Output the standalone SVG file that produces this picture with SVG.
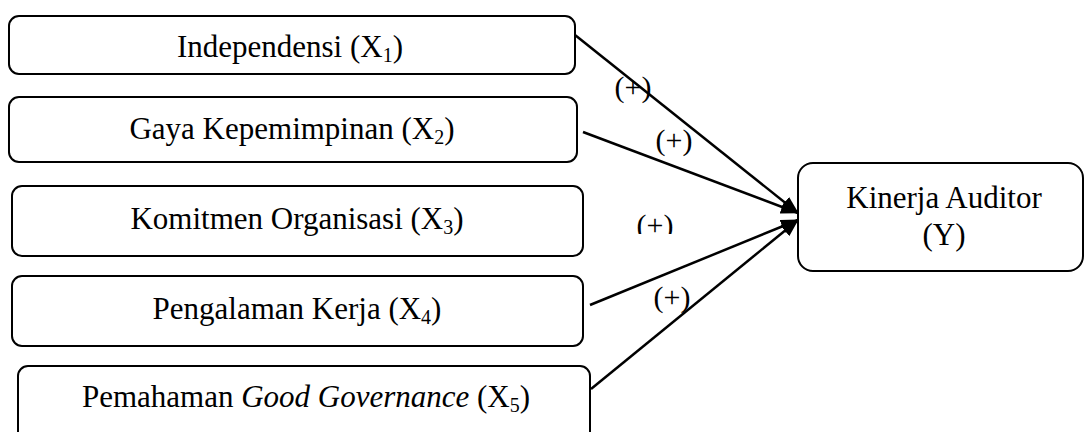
<svg xmlns="http://www.w3.org/2000/svg" width="1086" height="432" viewBox="0 0 1086 432">
<style>
.box{fill:#fff;stroke:#000;stroke-width:2}
.t{font-family:"Liberation Serif","Times New Roman",serif;font-size:31px;fill:#000;text-anchor:middle}
.lbl{font-family:"Liberation Serif","Times New Roman",serif;font-size:30px;fill:#000;text-anchor:middle}
.c{stroke:#000;stroke-width:2.5;fill:none}
</style>
<defs>
<marker id="ah" markerWidth="18" markerHeight="14" refX="17" refY="7" orient="auto" markerUnits="userSpaceOnUse">
<path d="M0,0 L18,7 L0,14 Z" fill="#000"/>
</marker>
<clipPath id="clip3"><rect x="600" y="200" width="120" height="34"/></clipPath>
</defs>
<rect width="1086" height="432" fill="#fff"/>
<g id="n1"><rect class="box" x="9" y="16" width="566" height="58" rx="10"/><text class="t" x="290" y="57">Independensi (X<tspan font-size="20" dy="5">1</tspan><tspan dy="-5">)</tspan></text></g>
<g id="n2"><rect class="box" x="9" y="97" width="568" height="65" rx="10"/><text class="t" x="292" y="139">Gaya Kepemimpinan (X<tspan font-size="20" dy="5">2</tspan><tspan dy="-5">)</tspan></text></g>
<g id="n3"><rect class="box" x="12" y="186" width="571" height="70" rx="10"/><text class="t" x="297" y="229">Komitmen Organisasi (X<tspan font-size="20" dy="5">3</tspan><tspan dy="-5">)</tspan></text></g>
<g id="n4"><rect class="box" x="12" y="276" width="571" height="70" rx="10"/><text class="t" x="297" y="319">Pengalaman Kerja (X<tspan font-size="20" dy="5">4</tspan><tspan dy="-5">)</tspan></text></g>
<g id="n5"><rect class="box" x="18" y="366" width="572" height="80" rx="10"/><text class="t" x="306" y="407">Pemahaman <tspan font-style="italic">Good Governance</tspan> (X<tspan font-size="20" dy="5">5</tspan><tspan dy="-5">)</tspan></text></g>
<g id="ny"><rect class="box" x="798" y="163" width="285" height="108" rx="15"/><text class="t" x="944" y="208">Kinerja Auditor</text><text class="t" x="944" y="245">(Y)</text></g>
<g id="connectors">
<line class="c" x1="575" y1="35" x2="798" y2="213" marker-end="url(#ah)"/>
<line class="c" x1="583" y1="132" x2="798" y2="213" marker-end="url(#ah)"/>
<line class="c" x1="590" y1="305" x2="798" y2="220" marker-end="url(#ah)"/>
<line class="c" x1="591" y1="389" x2="798" y2="220" marker-end="url(#ah)"/>
<text class="lbl" x="633" y="97">(+)</text>
<text class="lbl" x="674" y="150">(+)</text>
<text class="lbl" x="655" y="235" clip-path="url(#clip3)">(+)</text>
<text class="lbl" x="672" y="307">(+)</text>
</g>
</svg>
